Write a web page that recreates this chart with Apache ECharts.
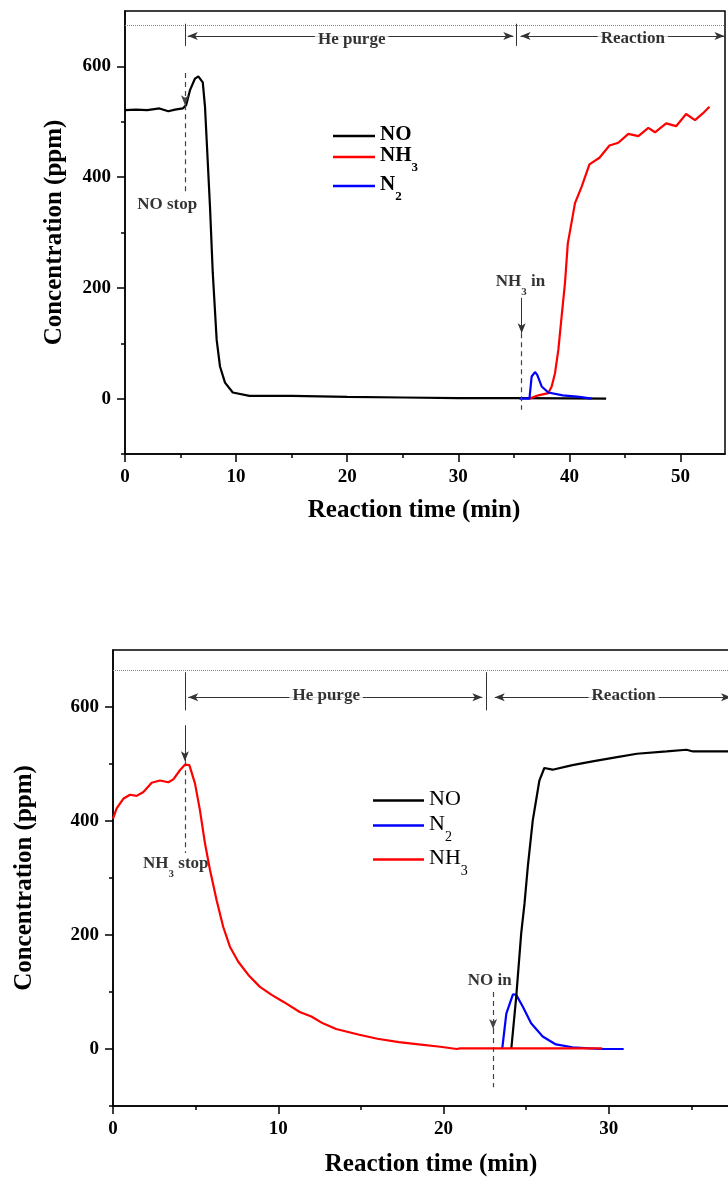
<!DOCTYPE html>
<html>
<head>
<meta charset="utf-8">
<script src="https://cdn.jsdelivr.net/npm/echarts@6/dist/echarts.min.js"></script>
<style>
  html, body { margin: 0; padding: 0; background: #fff; overflow: hidden; }
  #chart { width: 760px; height: 1183px; }
</style>
</head>
<body>
<div id="chart"></div>
<script>
// ---- top panel: NO stop -> He purge -> NH3 in ----
const noTopTime = [0, 1, 2, 3.1, 3.9, 4.5, 5.2, 5.5, 5.85, 6.3, 6.6, 7.0, 7.2, 7.35, 7.65, 7.9, 8.25, 8.55, 9.0, 9.7, 11.2, 15, 20, 25, 30, 35, 40, 43.3];
const noTopConc = [521, 522, 521, 524, 519, 522, 524, 530, 557, 578, 582, 571, 527, 467, 346, 227, 106, 58, 29, 11, 5, 5, 3, 2, 1, 1, 0.5, 0];
const nh3TopTime = [36.4, 37.2, 38.1, 38.4, 38.7, 39.0, 39.3, 39.6, 39.85, 40.5, 41.1, 41.8, 42.7, 43.6, 44.4, 45.3, 46.2, 47.1, 47.7, 48.7, 49.6, 50.5, 51.3, 52.0, 52.6];
const nh3TopConc = [0, 6, 10, 22, 46, 88, 149, 209, 280, 353, 383, 423, 435, 457, 462, 478, 474, 489, 481, 497, 492, 514, 503, 515, 527];
const n2TopTime = [35.5, 36.4, 36.6, 36.9, 37.1, 37.5, 38.1, 39.4, 40.9, 42.0];
const n2TopConc = [0, 0, 40, 48, 43, 22, 11, 6, 3, 0];

// ---- bottom panel: NH3 stop -> He purge -> NO in ----
const nh3BotTime = [0, 0.22, 0.62, 1.03, 1.43, 1.84, 2.34, 2.84, 3.35, 3.65, 4.05, 4.36, 4.62, 4.96, 5.26, 5.57, 5.87, 6.27, 6.67, 7.08, 7.58, 8.19, 8.89, 9.6, 10.3, 11.3, 12.0, 12.7, 13.5, 14.9, 16.0, 17.3, 18.5, 19.8, 20.8, 21.0, 29.6];
const nh3BotConc = [404, 422, 439, 446, 444, 451, 467, 471, 468, 473, 489, 499, 498, 466, 419, 360, 314, 261, 214, 179, 153, 130, 109, 95, 83, 65, 57, 45, 35, 25, 18, 12, 8, 4, 0, 1, 1];
const noBotTime = [24.1, 24.4, 24.7, 24.9, 25.1, 25.4, 25.6, 25.8, 26.1, 26.2, 26.6, 27.8, 29.1, 30.5, 31.7, 33.5, 34.7, 35.1, 37.5];
const noBotConc = [0, 92, 203, 255, 320, 401, 436, 471, 493, 495, 490, 498, 505, 512, 518, 522, 525, 522, 522];
const n2BotTime = [23.55, 23.8, 24.2, 24.4, 24.8, 25.3, 26.0, 26.8, 27.8, 29.5, 30.9];
const n2BotConc = [0, 62, 96, 95, 74, 45, 22, 8, 3, 0, 0];

// axis ticks
const yMajor = [0, 200, 400, 600];
const yMinor = [-100, 100, 300, 500];
const xMajorTop = [0, 10, 20, 30, 40, 50];
const xMinorTop = [5, 15, 25, 35, 45];
const xMajorBot = [0, 10, 20, 30];
const xMinorBot = [5, 15, 25, 35];

const FONT = '"Liberation Serif", "Times New Roman", serif';

function pairs(t, v) {
  return t.map((x, i) => [x, v[i]]);
}

// chemical formulas with subscripts
function formula(name, style) {
  const m = name.match(/^([A-Za-z]+?)(\d)(.*)$/);
  if (!m) return '{' + style + '|' + name + '}';
  let s = '{' + style + '|' + m[1] + '}{' + style + 's|' + m[2] + '}';
  if (m[3]) s += '{' + style + '|' + m[3] + '}';
  return s;
}

function richSet(size, weight) {
  return {
    t: { fontSize: size, fontWeight: weight, fontFamily: FONT, color: '#000', lineHeight: size + 3, verticalAlign: 'top' },
    ts: { fontSize: Math.round(size * 0.62), fontWeight: weight, fontFamily: FONT, color: '#000', lineHeight: Math.round(size * 0.66), padding: [Math.round(size * 0.76), 0, 0, 0], verticalAlign: 'top' }
  };
}

const axisText = { color: '#000', fontFamily: FONT, fontWeight: 'bold', fontSize: 19 };
const nameText = { color: '#000', fontFamily: FONT, fontWeight: 'bold', fontSize: 25 };

function xAxes(grid, max, major, minor, gap, pad) {
  return [{
    type: 'value', gridIndex: grid, min: 0, max: max, position: 'bottom',
    axisLine: { show: true, onZero: false, lineStyle: { color: '#000', width: 1.5 } },
    axisTick: { show: true, length: 8, customValues: major, lineStyle: { color: '#000', width: 1.5 } },
    axisLabel: Object.assign({ customValues: major, margin: 14 }, axisText),
    splitLine: { show: false },
    name: 'Reaction time (min)', nameLocation: 'middle', nameGap: gap,
    nameTextStyle: Object.assign({ padding: pad }, nameText)
  }, {
    type: 'value', gridIndex: grid, min: 0, max: max, position: 'bottom',
    axisLine: { show: false, onZero: false },
    axisTick: { show: true, length: 4, customValues: minor, lineStyle: { color: '#000', width: 1.5 } },
    axisLabel: { show: false },
    splitLine: { show: false }
  }];
}

function yAxes(grid, gap) {
  return [{
    type: 'value', gridIndex: grid, min: -100, max: 700, position: 'left',
    axisLine: { show: true, onZero: false, lineStyle: { color: '#000', width: 1.5 } },
    axisTick: { show: true, length: 8, customValues: yMajor, lineStyle: { color: '#000', width: 1.5 } },
    axisLabel: Object.assign({ customValues: yMajor, margin: 14 }, axisText),
    splitLine: { show: false },
    name: 'Concentration (ppm)', nameLocation: 'middle', nameGap: gap,
    nameTextStyle: nameText
  }, {
    type: 'value', gridIndex: grid, min: -100, max: 700, position: 'left',
    axisLine: { show: false, onZero: false },
    axisTick: { show: true, length: 4, customValues: yMinor, lineStyle: { color: '#000', width: 1.5 } },
    axisLabel: { show: false },
    splitLine: { show: false }
  }];
}

// annotation line helpers (data coordinates)
function seg(a, b, style, endArrow, startArrow) {
  return [
    { coord: a, lineStyle: style, symbol: startArrow ? 'arrow' : 'none' },
    { coord: b, symbol: endArrow ? 'arrow' : 'none' }
  ];
}
const dotted = { type: 'dotted', color: '#888', width: 1 };
const thin = { type: 'solid', color: '#333', width: 1 };
const dash = { type: [5, 4], color: '#444', width: 1.2 };

const topMarks = [
  seg([0, 675], [54, 675], dotted),
  seg([5.4, 677], [5.4, 637], thin),
  seg([35.2, 677], [35.2, 637], thin),
  seg([5.65, 655], [34.95, 655], thin, true, true),
  seg([35.6, 655], [53.95, 655], thin, true, true),
  seg([5.4, 588], [5.4, 530], dash, true),
  seg([5.4, 530], [5.4, 374], dash),
  seg([35.7, 182], [35.7, 118], thin, true),
  seg([35.7, 118], [35.7, -20], dash)
];
const botMarks = [
  seg([0, 664], [38, 664], dotted),
  seg([4.35, 661], [4.35, 594], thin),
  seg([22.6, 661], [22.6, 594], thin),
  seg([4.55, 617], [22.35, 617], thin, true, true),
  seg([23.1, 617], [37.4, 617], thin, true, true),
  seg([4.35, 568], [4.35, 505], thin, true),
  seg([4.35, 505], [4.35, 344], dash),
  seg([23.0, 100], [23.0, 35], dash, true),
  seg([23.0, 35], [23.0, -67], dash)
];

const topNotes = [
  { name: 'He purge', value: [20.4, 645], bg: true },
  { name: 'Reaction', value: [45.7, 648], bg: true },
  { name: 'NO stop', value: [3.8, 347] },
  { name: 'NH3 in', value: [35.6, 208] }
];
const botNotes = [
  { name: 'He purge', value: [12.9, 617], bg: true },
  { name: 'Reaction', value: [30.9, 617], bg: true },
  { name: 'NH3 stop', value: [3.8, 322] },
  { name: 'NO in', value: [22.8, 117] }
];

function noteSeries(xi, yi, notes) {
  return {
    type: 'scatter', name: '_notes', xAxisIndex: xi, yAxisIndex: yi,
    symbolSize: 1, itemStyle: { color: 'rgba(0,0,0,0)' }, z: 5, silent: true,
    data: notes.map(n => ({
      name: n.name, value: n.value,
      label: n.bg ? { backgroundColor: '#fff', padding: [0, 3] } : {}
    })),
    label: {
      show: true, position: 'inside',
      formatter: p => formula(p.name, 't'),
      rich: richSet(17, 'bold')
    }
  };
}

function lineSeries(name, color, xi, yi, t, v, marks) {
  const s = {
    type: 'line', name: name, xAxisIndex: xi, yAxisIndex: yi,
    data: pairs(t, v), symbol: 'none',
    lineStyle: { color: color, width: 2.2 }, itemStyle: { color: color }
  };
  if (marks) {
    s.markLine = { silent: true, symbol: 'none', symbolSize: [6, 10], label: { show: false }, data: marks };
  }
  return s;
}

const chart = echarts.init(document.getElementById('chart'), null, { renderer: 'canvas' });
chart.setOption({
  backgroundColor: '#fff',
  animation: false,
  grid: [
    { left: 125, top: 11, width: 600, height: 443, show: true, borderColor: '#000', borderWidth: 1.5 },
    { left: 113, top: 650, width: 628, height: 456, show: true, borderColor: '#000', borderWidth: 1.5 }
  ],
  xAxis: [].concat(xAxes(0, 54, xMajorTop, xMinorTop, 44, [0, 22, 0, 0]), xAxes(1, 38, xMajorBot, xMinorBot, 46, [0, 0, 0, 8])),
  yAxis: [].concat(yAxes(0, 58), yAxes(1, 76)),
  legend: [{
    data: ['NO', 'NH3', 'N2'], orient: 'vertical', left: 328, top: 119,
    icon: 'rect', itemWidth: 42, itemHeight: 2.5, itemGap: 0,
    formatter: n => formula(n, 't'),
    textStyle: { rich: richSet(21, 'bold') }
  }, {
    data: ['NO', 'N2', 'NH3'], orient: 'vertical', left: 368, top: 783,
    icon: 'rect', itemWidth: 51, itemHeight: 2.5, itemGap: 3,
    formatter: n => formula(n, 't'),
    textStyle: { rich: richSet(22, 'normal') }
  }],
  series: [
    lineSeries('NO', '#000', 0, 0, noTopTime, noTopConc, topMarks),
    lineSeries('NH3', '#ff0000', 0, 0, nh3TopTime, nh3TopConc),
    lineSeries('N2', '#0000ff', 0, 0, n2TopTime, n2TopConc),
    noteSeries(0, 0, topNotes),
    lineSeries('N2', '#0000ff', 2, 2, n2BotTime, n2BotConc),
    lineSeries('NO', '#000', 2, 2, noBotTime, noBotConc, botMarks),
    lineSeries('NH3', '#ff0000', 2, 2, nh3BotTime, nh3BotConc),
    noteSeries(2, 2, botNotes)
  ]
});
</script>
</body>
</html>
